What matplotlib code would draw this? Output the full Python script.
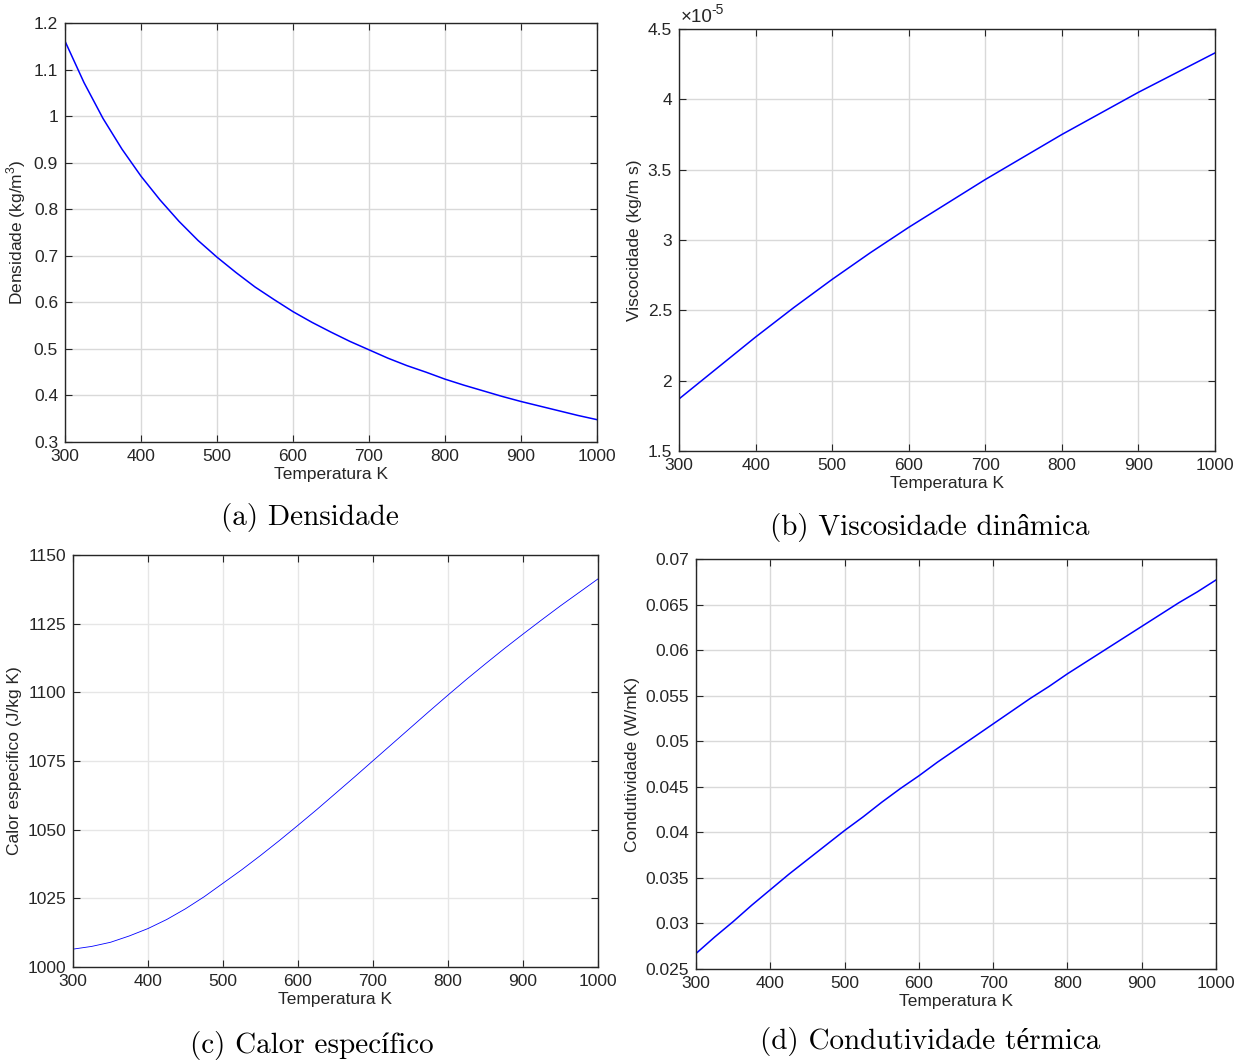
import numpy as np
import matplotlib
matplotlib.use('Agg')
import matplotlib.pyplot as plt
from matplotlib.ticker import FuncFormatter

plt.rcParams['font.family'] = ['Liberation Sans', 'DejaVu Sans']
plt.rcParams['mathtext.fontset'] = 'custom'
plt.rcParams['mathtext.rm'] = 'Liberation Sans'

# temperature (K)
temp = [300, 325, 350, 375, 400, 425, 450, 475, 500, 525, 550, 575, 600, 625, 650,
        675, 700, 725, 750, 775, 800, 825, 850, 875, 900, 925, 950, 975, 1000]

# properties
densidade = [1.161, 1.072, 0.995, 0.929, 0.871, 0.820, 0.774, 0.733, 0.697, 0.664,
             0.633, 0.606, 0.580, 0.557, 0.536, 0.516, 0.498, 0.480, 0.464, 0.450,
             0.435, 0.422, 0.410, 0.398, 0.387, 0.377, 0.367, 0.357, 0.348]
viscosidade = [1.87e-5, 1.98e-5, 2.09e-5, 2.20e-5, 2.31e-5, 2.415e-5, 2.52e-5, 2.62e-5,
               2.72e-5, 2.815e-5, 2.91e-5, 3.00e-5, 3.09e-5, 3.175e-5, 3.26e-5, 3.345e-5,
               3.43e-5, 3.51e-5, 3.59e-5, 3.67e-5, 3.75e-5, 3.825e-5, 3.90e-5, 3.975e-5,
               4.05e-5, 4.12e-5, 4.19e-5, 4.26e-5, 4.33e-5]
calor_esp = [1006.5, 1007.5, 1009, 1011.3, 1014, 1017.3, 1021.2, 1025.6, 1030.5, 1035.4,
             1040.6, 1046, 1051.6, 1057.3, 1063.2, 1069.1, 1075.1, 1081.1, 1087.1, 1093.1,
             1099, 1104.8, 1110.4, 1115.9, 1121.2, 1126.4, 1131.5, 1136.4, 1141.3]
condutividade = [0.0267, 0.0285, 0.0302, 0.0320, 0.0337, 0.0354, 0.0370, 0.0386, 0.0402,
                 0.0417, 0.0433, 0.0448, 0.0462, 0.0477, 0.0491, 0.0505, 0.0519, 0.0533,
                 0.0547, 0.0560, 0.0574, 0.0587, 0.0600, 0.0613, 0.0626, 0.0639, 0.0652,
                 0.0664, 0.0677]

W, H = 1248, 1061
fig = plt.figure(figsize=(W / 100, H / 100), dpi=100)
fs = 12.5
dark = '#262626'


def make_ax(l, t, r, b, grid_col='#d9d9d9'):
    ax = fig.add_axes([l / W, 1 - b / H, (r - l) / W, (b - t) / H])
    ax.set_xlim(300, 1000)
    ax.set_xticks(range(300, 1001, 100))
    ax.grid(True, color=grid_col, lw=1)
    ax.set_axisbelow(True)
    ax.tick_params(direction='in', top=True, right=True, length=5, pad=5,
                   labelsize=fs, colors=dark)
    for s in ax.spines.values():
        s.set_color(dark)
        s.set_linewidth(1)
    ax.set_xlabel('Temperatura K', fontsize=fs, color=dark, labelpad=2)
    return ax


fmt = FuncFormatter(lambda v, p: '%g' % round(v, 6))

ax = make_ax(65, 23, 597, 442)
ax.plot(temp, densidade, color='blue', lw=1.1)
ax.set_ylim(0.3, 1.2)
ax.set_yticks(np.arange(0.3, 1.21, 0.1))
ax.yaxis.set_major_formatter(fmt)
ax.set_ylabel('Densidade (kg/m$^3$)', fontsize=fs, color=dark)

ax = make_ax(679, 29, 1215, 451)
ax.plot(temp, viscosidade, color='blue', lw=1.1)
ax.set_ylim(1.5e-5, 4.5e-5)
ax.set_yticks(np.arange(1.5e-5, 4.51e-5, 0.5e-5))
ax.yaxis.set_major_formatter(FuncFormatter(lambda v, p: '%g' % round(v / 1e-5, 4)))
ax.text(0.003, 1.006, '×10', transform=ax.transAxes, fontsize=13.5,
        color=dark, va='bottom', ha='left')
ax.annotate('-5', xy=(0.003, 1.006), xycoords='axes fraction', xytext=(22, 7),
            textcoords='offset points', fontsize=10, color=dark, va='bottom', ha='left')
ax.set_ylabel('Viscocidade (kg/m s)', fontsize=fs, color=dark)

ax = make_ax(73, 555, 598, 967, grid_col='#e6e6e6')
ax.plot(temp, calor_esp, color='blue', lw=0.6)
ax.set_ylim(1000, 1150)
ax.set_yticks(range(1000, 1151, 25))
ax.set_ylabel('Calor especifico (J/kg K)', fontsize=fs, color=dark)

ax = make_ax(696, 559, 1216, 969)
ax.plot(temp, condutividade, color='blue', lw=1.1)
ax.set_ylim(0.025, 0.07)
ax.set_yticks(np.arange(0.025, 0.0701, 0.005))
ax.yaxis.set_major_formatter(fmt)
ax.set_ylabel('Condutividade (W/mK)', fontsize=fs, color=dark)

cap = dict(fontsize=21, family=['cmr10', 'Liberation Serif'], ha='center', va='center')
fig.text(310 / W, 1 - 517 / H, '(a) Densidade', **cap)
fig.text(930 / W, 1 - 527 / H, '(b) Viscosidade dinâmica', **cap)
fig.text(312 / W, 1 - 1045 / H, '(c) Calor específico', **cap)
fig.text(930 / W, 1 - 1042 / H, '(d) Condutividade térmica', **cap)

fig.savefig('out.png', dpi=100)
